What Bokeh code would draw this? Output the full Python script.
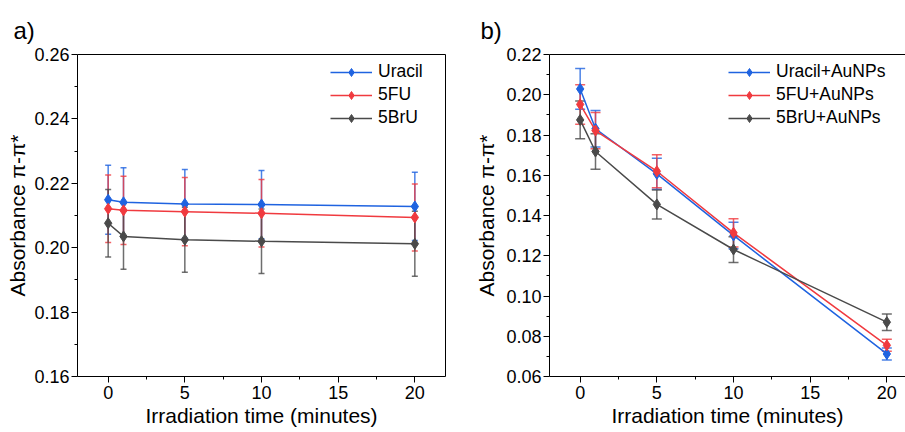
from bokeh.plotting import figure
from bokeh.models import (Range1d, LinearAxis, FixedTicker, NumeralTickFormatter, Whisker,
                          TeeHead, ColumnDataSource, Legend, LegendItem)
from bokeh.layouts import row
from bokeh.embed import file_html
from bokeh.resources import INLINE

# ---------------- data ----------------
time_min = [0, 1, 5, 10, 20]

# panel a)
uracil = [0.2149, 0.2141, 0.2136, 0.2134, 0.2128]
uracil_err = [0.0107, 0.0107, 0.0107, 0.0106, 0.0106]
fu = [0.2121, 0.2116, 0.2112, 0.2107, 0.2094]
fu_err = [0.0105, 0.0106, 0.0106, 0.0105, 0.0104]
bru = [0.2076, 0.2035, 0.2025, 0.2020, 0.2012]
bru_err = [0.0105, 0.0102, 0.0101, 0.0100, 0.0101]

# panel b)
uracil_np = [0.2029, 0.1831, 0.1607, 0.1301, 0.0712]
uracil_np_err = [0.0101, 0.0091, 0.0077, 0.0066, 0.0030]
fu_np = [0.1952, 0.1822, 0.1620, 0.1314, 0.0755]
fu_np_err = [0.0098, 0.0090, 0.0082, 0.0070, 0.0030]
bru_np = [0.1875, 0.1718, 0.1455, 0.1231, 0.0870]
bru_np_err = [0.0094, 0.0088, 0.0072, 0.0064, 0.0041]

labels_a = ["Uracil", "5FU", "5BrU"]
labels_b = ["Uracil+AuNPs", "5FU+AuNPs", "5BrU+AuNPs"]

x_title = "Irradiation time (minutes)"
y_title = "Absorbance \u03c0-\u03c0*"

x_ticks = [0, 5, 10, 15, 20]
x_minor = [2.5, 7.5, 12.5, 17.5]
y_ticks_a = [0.16, 0.18, 0.20, 0.22, 0.24, 0.26]
y_minor_a = [0.17, 0.19, 0.21, 0.23, 0.25]
y_ticks_b = [0.06, 0.08, 0.10, 0.12, 0.14, 0.16, 0.18, 0.20, 0.22]
y_minor_b = [0.07, 0.09, 0.11, 0.13, 0.15, 0.17, 0.19, 0.21]

COLORS = ["#1f63e0", "#f03a3f", "#4a4a4a"]
FONT = "Liberation Sans"
PX_PER_MIN = 368 / 24.0


def style_axis(ax, ticks, minor, fmt=None):
    ax.ticker = FixedTicker(ticks=ticks, minor_ticks=minor)
    if fmt:
        ax.formatter = NumeralTickFormatter(format=fmt)
    ax.axis_line_color = "black"
    ax.axis_line_width = 1
    ax.major_tick_line_color = "black"
    ax.minor_tick_line_color = "black"
    ax.major_tick_in = 0
    ax.major_tick_out = 6
    ax.minor_tick_in = 0
    ax.minor_tick_out = 3
    ax.major_label_text_font = FONT
    ax.major_label_text_font_size = "18px"
    ax.major_label_text_color = "black"
    ax.axis_label_text_font = FONT
    ax.axis_label_text_font_size = "21px"
    ax.axis_label_text_font_style = "normal"
    ax.axis_label_text_color = "black"


def bare_axis():
    return LinearAxis(ticker=FixedTicker(ticks=[]), major_tick_out=0, major_tick_in=0,
                      minor_tick_out=0, minor_tick_in=0, major_label_text_font_size="0px",
                      major_label_standoff=0, axis_line_color="black", axis_line_width=1)


def make_panel(width, mb_left, mb_right, x_end, y_lo, y_hi, y_ticks, y_minor,
               series, names, cap, legend_x, letter, letter_offset, ylab_standoff,
               right_axis):
    p = figure(width=width, height=432, output_backend="svg", toolbar_location=None,
               x_range=Range1d(-2, x_end), y_range=Range1d(y_lo, y_hi),
               min_border_left=mb_left, min_border_right=mb_right,
               min_border_top=54, min_border_bottom=56)
    p.xgrid.grid_line_color = None
    p.ygrid.grid_line_color = None
    p.outline_line_color = None
    p.background_fill_color = "white"
    p.border_fill_color = "white"

    xa = p.xaxis[0]
    style_axis(xa, x_ticks, x_minor)
    xa.major_label_standoff = 3
    xa.axis_label = x_title
    xa.axis_label_standoff = 2

    ya = p.yaxis[0]
    style_axis(ya, y_ticks, y_minor, "0.00")
    ya.major_label_standoff = 2
    ya.axis_label = y_title
    ya.axis_label_standoff = ylab_standoff

    p.add_layout(bare_axis(), "above")
    if right_axis:
        p.add_layout(bare_axis(), "right")

    # panel letter as title
    p.title.text = letter
    p.title.align = "left"
    p.title.offset = letter_offset
    p.title.text_font = FONT
    p.title.text_font_size = "24px"
    p.title.text_font_style = "normal"
    p.title.text_color = "black"
    p.title.standoff = 22

    items = []
    for (vals, errs), name, color in zip(series, names, COLORS):
        src = ColumnDataSource(dict(x=time_min, y=vals,
                                    upper=[v + e for v, e in zip(vals, errs)],
                                    lower=[v - e for v, e in zip(vals, errs)]))
        w = Whisker(source=src, base="x", upper="upper", lower="lower",
                    line_color=color, line_width=1.5, line_alpha=0.8,
                    upper_head=TeeHead(size=cap, line_color=color, line_width=1.5, line_alpha=0.8),
                    lower_head=TeeHead(size=cap, line_color=color, line_width=1.5, line_alpha=0.8))
        p.add_layout(w)
        ln = p.line("x", "y", source=src, line_color=color, line_width=1.5)
        sc = p.scatter("x", "y", source=src, marker="diamond", size=11,
                       fill_color=color, line_color=color)
        items.append(LegendItem(label=name, renderers=[ln, sc]))

    legend = Legend(items=items, location=(legend_x, 248),
                    glyph_width=42, glyph_height=20, label_height=20, spacing=2,
                    padding=0, margin=0, label_standoff=6,
                    border_line_color=None, background_fill_alpha=0,
                    label_text_font=FONT, label_text_font_size="17.5px",
                    label_text_color="black")
    p.add_layout(legend)
    return p


p1 = make_panel(470, 77, 25, 22, 0.16, 0.26, y_ticks_a, y_minor_a,
                [(uracil, uracil_err), (fu, fu_err), (bru, bru_err)], labels_a, 6,
                253, "a)", -64, 2, True)
p2 = make_panel(435, 79, 0, -2 + 356 / PX_PER_MIN, 0.06, 0.22, y_ticks_b, y_minor_b,
                [(uracil_np, uracil_np_err), (fu_np, fu_np_err), (bru_np, bru_np_err)],
                labels_b, 10, 179, "b)", -69, 5, False)

layout = row(p1, p2, spacing=0)
open("out.html", "w").write(file_html(layout, INLINE))
